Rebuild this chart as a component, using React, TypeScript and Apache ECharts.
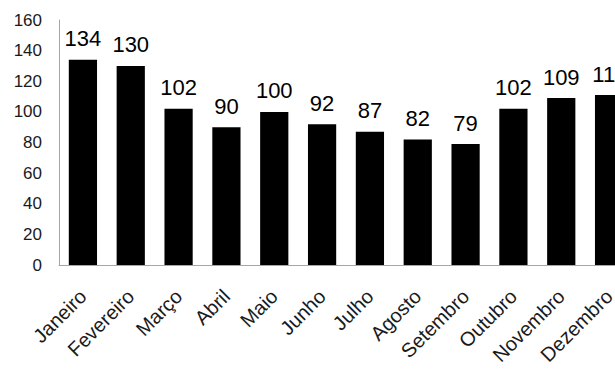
import React, { useEffect, useRef } from "react";
import * as echarts from "echarts";

const categories = [
  "Janeiro", "Fevereiro", "Março", "Abril", "Maio", "Junho",
  "Julho", "Agosto", "Setembro", "Outubro", "Novembro", "Dezembro",
];
const values = [134, 130, 102, 90, 100, 92, 87, 82, 79, 102, 109, 111];
const yMin = 0;
const yMax = 160;
const yInterval = 20;

const FONT = "'Liberation Sans', Arial, sans-serif";

export default function App() {
  const ref = useRef<HTMLDivElement>(null);
  useEffect(() => {
    if (!ref.current) return;
    const chart = echarts.init(ref.current, null, { renderer: "svg" });
    chart.setOption({
      animation: false,
      backgroundColor: "#ffffff",
      grid: { left: 59, right: 0, top: 20, bottom: 104, containLabel: false },
      xAxis: {
        type: "category",
        data: categories,
        axisLine: { show: true, lineStyle: { color: "#a6a6a6", width: 1 } },
        axisTick: { show: false },
        axisLabel: {
          interval: 0,
          rotate: 45,
          margin: 28,
          fontSize: 20,
          fontFamily: FONT,
          color: "#1a1a1a",
        },
      },
      yAxis: {
        type: "value",
        min: yMin,
        max: yMax,
        interval: yInterval,
        axisLine: { show: true, lineStyle: { color: "#a6a6a6", width: 1 } },
        axisTick: { show: false },
        splitLine: { show: false },
        axisLabel: {
          margin: 17,
          fontSize: 17,
          fontFamily: FONT,
          color: "#1a1a1a",
        },
      },
      series: [
        {
          type: "bar",
          data: values,
          barCategoryGap: "41%",
          itemStyle: { color: "#000000" },
          label: {
            show: true,
            position: "top",
            distance: 10,
            fontSize: 22,
            fontFamily: FONT,
            color: "#000000",
          },
        },
      ],
    });
    return () => chart.dispose();
  }, []);
  return (
    <div
      style={{
        position: "fixed",
        left: 0,
        top: 0,
        width: 615,
        height: 369,
        overflow: "hidden",
        background: "#fff",
      }}
    >
      <div ref={ref} style={{ width: 633, height: 369 }} />
    </div>
  );
}
